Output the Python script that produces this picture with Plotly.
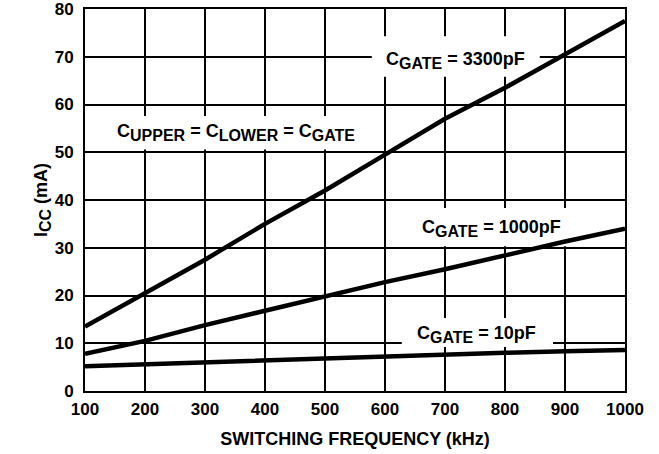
import plotly.graph_objects as go

freq = [100, 200, 300, 400, 500, 600, 700, 800, 900, 1000]
icc_3300 = [13.5, 20.5, 27.5, 35.0, 42.0, 49.5, 57.0, 63.5, 70.5, 77.5]
icc_1000 = [7.8, 10.5, 13.8, 16.8, 19.8, 22.8, 25.5, 28.5, 31.3, 34.0]
icc_10 = [5.2, 5.6, 6.1, 6.6, 7.0, 7.4, 7.7, 8.0, 8.3, 8.6]

x_ticks = [100, 200, 300, 400, 500, 600, 700, 800, 900, 1000]
y_ticks = [0, 10, 20, 30, 40, 50, 60, 70, 80]

FONT = "Liberation Sans, Arial, sans-serif"


def sub(s, size=16):
    return f"<sub><span style='font-size:{size}px'>{s}</span></sub>"


label_texts = [
    "C" + sub("GATE") + " = 3300pF",
    "C" + sub("UPPER") + " = C" + sub("LOWER") + " = C" + sub("GATE"),
    "C" + sub("GATE") + " = 1000pF",
    "C" + sub("GATE") + " = 10pF",
]
# layout: label anchor (x, y) and white backing box (x0, x1, y0, y1)
label_pos = [(718, 69.3), (351, 54.2), (778, 34.1), (753, 11.9)]
label_box = [(578, 858, 65.8, 74.3), (100, 578, 50.6, 57.6),
             (642, 917, 30.3, 38.3), (628, 880, 9.2, 15.3)]

fig = go.Figure()
for ys in (icc_3300, icc_1000, icc_10):
    fig.add_trace(go.Scatter(x=freq, y=ys, mode="lines",
                             line=dict(color="black", width=4.5),
                             showlegend=False, hoverinfo="skip"))

for (x, y), (x0, x1, y0, y1), t in zip(label_pos, label_box, label_texts):
    fig.add_shape(type="rect", xref="x", yref="y", x0=x0, x1=x1, y0=y0, y1=y1,
                  fillcolor="white", line=dict(width=0), layer="between")
    fig.add_annotation(x=x, y=y, text="<b>" + t + "</b>", showarrow=False,
                       font=dict(family=FONT, size=18, color="black"))

axis_common = dict(showline=True, linecolor="black", linewidth=2, mirror=True,
                   showgrid=True, gridcolor="black", gridwidth=1.5,
                   zeroline=False, ticks="", automargin=False,
                   ticklabeloverflow="allow",
                   tickfont=dict(family=FONT, size=17, color="black"))

fig.update_xaxes(range=[100, 1000], tickvals=x_ticks,
                 ticktext=[f"<b>{v}</b>" for v in x_ticks],
                 ticklabelstandoff=2,
                 title=dict(text="<b>SWITCHING FREQUENCY (kHz)</b>",
                            font=dict(family=FONT, size=18, color="black"),
                            standoff=14),
                 **axis_common)
fig.update_yaxes(range=[0, 80], tickvals=y_ticks,
                 ticktext=[f"<b>{v}</b>" for v in y_ticks],
                 ticklabelstandoff=6,
                 title=dict(text="<b>I" + sub("CC", 16) + " (mA)</b>",
                            font=dict(family=FONT, size=18, color="black"),
                            standoff=2),
                 **axis_common)

fig.update_layout(width=659, height=454,
                  margin=dict(l=85, r=34, t=9, b=63),
                  plot_bgcolor="white", paper_bgcolor="white")

fig.write_html("out.html", config={"displayModeBar": False},
               post_script="document.body.style.margin='0px';document.body.style.overflow='hidden';")
